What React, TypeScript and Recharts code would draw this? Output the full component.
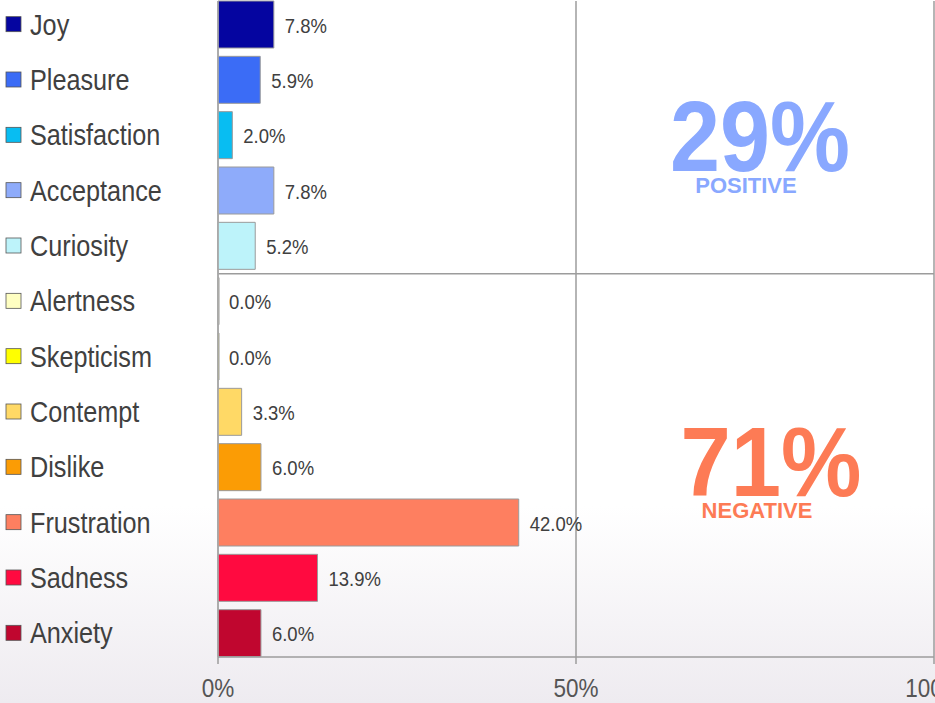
import { Bar, BarChart, CartesianGrid, Cell, LabelList, ReferenceLine, XAxis, YAxis } from "recharts";

const emotions = [
  "Joy",
  "Pleasure",
  "Satisfaction",
  "Acceptance",
  "Curiosity",
  "Alertness",
  "Skepticism",
  "Contempt",
  "Dislike",
  "Frustration",
  "Sadness",
  "Anxiety",
];
const shares = [7.8, 5.9, 2.0, 7.8, 5.2, 0.0, 0.0, 3.3, 6.0, 42.0, 13.9, 6.0];
const colors = [
  "#0505a0",
  "#3b6cf6",
  "#08bdf2",
  "#8eabfa",
  "#bdf3fa",
  "#ffffc2",
  "#ffff00",
  "#ffd966",
  "#fb9c05",
  "#fe7f60",
  "#ff0a40",
  "#c0062f",
];
const xTicks = [0, 50, 100];
const summary = [
  { label: "POSITIVE", pct: 29, color: "#89a8ff" },
  { label: "NEGATIVE", pct: 71, color: "#fd7b55" },
];

const data = emotions.map((name, i) => ({ name, value: shares[i] }));

// no Arial Narrow here, so squeeze Liberation Sans instead
const FONT = "'Liberation Sans', Arial, sans-serif";
const GRID = "#9c9c9c";

function LegendTick({ y, payload, index }: any) {
  return (
    <g>
      <rect x={6} y={y - 8} width={15} height={15} fill={colors[index]} stroke="#555" strokeWidth={0.8} />
      <text
        transform={`translate(30, ${y + 10}) scale(0.87, 1)`}
        fill="#404040"
        fontSize={29}
        fontFamily={FONT}
      >
        {payload.value}
      </text>
    </g>
  );
}

function PctTick({ x, y, payload }: any) {
  return (
    <text
      transform={`translate(${x}, ${y + 19}) scale(0.9, 1)`}
      textAnchor="middle"
      fill="#555"
      fontSize={25}
      fontFamily={FONT}
    >
      {`${payload.value}%`}
    </text>
  );
}

function ValueLabel({ x, y, width, height, value }: any) {
  // zero bars get a 1px min size, keep their label pinned to the axis
  const w = Number(value) === 0 ? 0 : Number(width);
  const tx = Number(x) + w + 11;
  const ty = Number(y) + Number(height) / 2 + 8;
  return (
    <text transform={`translate(${tx}, ${ty}) scale(0.88, 1)`} fill="#404040" fontSize={21} fontFamily={FONT}>
      {`${Number(value).toFixed(1)}%`}
    </text>
  );
}

export default function App() {
  return (
    <div
      style={{
        position: "absolute",
        left: 0,
        top: 0,
        width: 935,
        height: 703,
        overflow: "hidden",
        background: "linear-gradient(to bottom, #ffffff 0%, #ffffff 72%, #eeebf0 100%)",
      }}
    >
      <BarChart
        width={935}
        height={703}
        data={data}
        layout="vertical"
        margin={{ top: 1, right: 1, left: 0, bottom: 0 }}
        barSize={47}
      >
        <CartesianGrid horizontal={false} stroke={GRID} strokeWidth={1.5} />
        <XAxis
          type="number"
          domain={[0, 100]}
          ticks={xTicks}
          axisLine={{ stroke: GRID, strokeWidth: 1.5 }}
          tickLine={{ stroke: GRID, strokeWidth: 1.5 }}
          tickSize={7}
          tickMargin={14}
          tick={<PctTick />}
          interval={0}
          height={46}
        />
        <XAxis
          xAxisId="top"
          orientation="top"
          type="number"
          domain={[0, 100]}
          tick={false}
          tickLine={false}
          axisLine={{ stroke: GRID, strokeWidth: 1.5 }}
          height={0}
        />
        <YAxis
          type="category"
          dataKey="name"
          width={218}
          padding={{ top: -4, bottom: -4 }}
          axisLine={{ stroke: "#aaa", strokeWidth: 1.5 }}
          tickLine={false}
          tick={<LegendTick />}
          interval={0}
        />
        <ReferenceLine y="Alertness" position="start" stroke={GRID} strokeWidth={1.5} />
        <Bar dataKey="value" stroke="#9a9a9a" strokeWidth={1} minPointSize={1} isAnimationActive={false}>
          {data.map((d, i) => (
            <Cell key={d.name} fill={colors[i]} />
          ))}
          <LabelList dataKey="value" content={<ValueLabel />} />
        </Bar>
      </BarChart>
      <svg width={935} height={703} style={{ position: "absolute", left: 0, top: 0, pointerEvents: "none" }}>
        <g fontFamily={FONT} fontWeight="bold" textAnchor="middle">
          <text x={760} y={171} fontSize={100} fill={summary[0].color} textLength={180} lengthAdjust="spacingAndGlyphs">
            {summary[0].pct}%
          </text>
          <text x={746} y={193} fontSize={22} fill={summary[0].color}>
            {summary[0].label}
          </text>
          <text x={771} y={496} fontSize={98} fill={summary[1].color} textLength={181} lengthAdjust="spacingAndGlyphs">
            {summary[1].pct}%
          </text>
          <text x={757} y={518} fontSize={22} fill={summary[1].color}>
            {summary[1].label}
          </text>
        </g>
      </svg>
    </div>
  );
}
